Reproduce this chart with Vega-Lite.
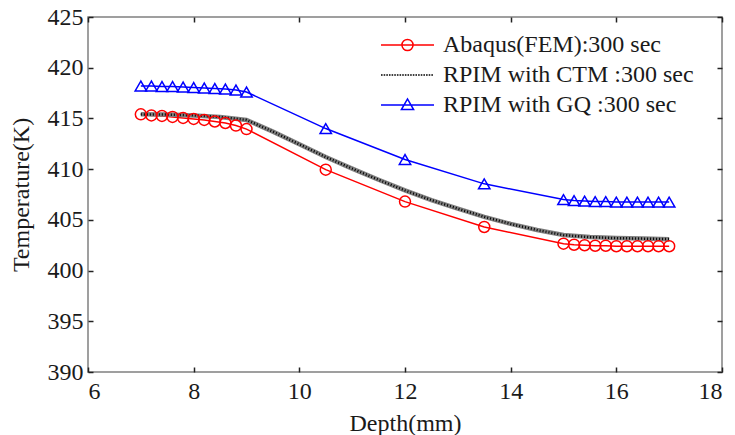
{
  "$schema": "https://vega.github.io/schema/vega-lite/v6.json",
  "width": 634,
  "height": 355,
  "autosize": {"type": "none"},
  "padding": {"left": 88, "top": 17, "right": 13, "bottom": 63},
  "background": "white",
  "config": {
    "font": "Liberation Serif",
    "view": {"stroke": "#808080", "strokeWidth": 1.5},
    "axis": {
      "labelFont": "Liberation Serif", "labelFontSize": 24, "labelColor": "#1a1a1a",
      "titleFont": "Liberation Serif", "titleFontSize": 24, "titleFontWeight": "normal", "titleColor": "#1a1a1a",
      "domain": false, "ticks": true, "tickColor": "#222222", "tickOpacity": 1, "grid": false, "tickSize": 5, "tickWidth": 1.5, "offset": -5, "zindex": 1
    },
    "legend": {
      "orient": "none", "legendX": 292, "legendY": 17, "padding": 0,
      "labelFont": "Liberation Serif", "labelFontSize": 24, "labelColor": "#1a1a1a", "labelLimit": 500,
      "symbolSize": 2809, "symbolStrokeWidth": 1.5, "symbolOpacity": 1, "clipHeight": 22, "rowPadding": 6, "labelOffset": 8
    }
  },
  "data": {"values": [
    {"series": "FEM", "depth": 7.0, "temp": 415.4},
    {"series": "FEM", "depth": 7.2, "temp": 415.3},
    {"series": "FEM", "depth": 7.4, "temp": 415.25},
    {"series": "FEM", "depth": 7.6, "temp": 415.15},
    {"series": "FEM", "depth": 7.8, "temp": 415.05},
    {"series": "FEM", "depth": 8.0, "temp": 414.95},
    {"series": "FEM", "depth": 8.2, "temp": 414.85},
    {"series": "FEM", "depth": 8.4, "temp": 414.7},
    {"series": "FEM", "depth": 8.6, "temp": 414.55},
    {"series": "FEM", "depth": 8.8, "temp": 414.3},
    {"series": "FEM", "depth": 9.0, "temp": 413.95},
    {"series": "FEM", "depth": 10.5, "temp": 409.95},
    {"series": "FEM", "depth": 12.0, "temp": 406.8},
    {"series": "FEM", "depth": 13.5, "temp": 404.3},
    {"series": "FEM", "depth": 15.0, "temp": 402.65},
    {"series": "FEM", "depth": 15.2, "temp": 402.55},
    {"series": "FEM", "depth": 15.4, "temp": 402.5},
    {"series": "FEM", "depth": 15.6, "temp": 402.45},
    {"series": "FEM", "depth": 15.8, "temp": 402.45},
    {"series": "FEM", "depth": 16.0, "temp": 402.4},
    {"series": "FEM", "depth": 16.2, "temp": 402.4},
    {"series": "FEM", "depth": 16.4, "temp": 402.4},
    {"series": "FEM", "depth": 16.6, "temp": 402.4},
    {"series": "FEM", "depth": 16.8, "temp": 402.4},
    {"series": "FEM", "depth": 17.0, "temp": 402.4},
    {"series": "GQ", "depth": 7.0, "temp": 418.2},
    {"series": "GQ", "depth": 7.2, "temp": 418.2},
    {"series": "GQ", "depth": 7.4, "temp": 418.15},
    {"series": "GQ", "depth": 7.6, "temp": 418.15},
    {"series": "GQ", "depth": 7.8, "temp": 418.1},
    {"series": "GQ", "depth": 8.0, "temp": 418.05},
    {"series": "GQ", "depth": 8.2, "temp": 418.0},
    {"series": "GQ", "depth": 8.4, "temp": 417.95},
    {"series": "GQ", "depth": 8.6, "temp": 417.9},
    {"series": "GQ", "depth": 8.8, "temp": 417.8},
    {"series": "GQ", "depth": 9.0, "temp": 417.6},
    {"series": "GQ", "depth": 10.5, "temp": 414.0},
    {"series": "GQ", "depth": 12.0, "temp": 410.95},
    {"series": "GQ", "depth": 13.5, "temp": 408.55},
    {"series": "GQ", "depth": 15.0, "temp": 407.0},
    {"series": "GQ", "depth": 15.2, "temp": 406.9},
    {"series": "GQ", "depth": 15.4, "temp": 406.85},
    {"series": "GQ", "depth": 15.6, "temp": 406.8},
    {"series": "GQ", "depth": 15.8, "temp": 406.8},
    {"series": "GQ", "depth": 16.0, "temp": 406.75},
    {"series": "GQ", "depth": 16.2, "temp": 406.75},
    {"series": "GQ", "depth": 16.4, "temp": 406.75},
    {"series": "GQ", "depth": 16.6, "temp": 406.75},
    {"series": "GQ", "depth": 16.8, "temp": 406.75},
    {"series": "GQ", "depth": 17.0, "temp": 406.75},
    {"series": "CTM", "depth": 7.0, "temp": 415.4},
    {"series": "CTM", "depth": 7.5, "temp": 415.38},
    {"series": "CTM", "depth": 8.0, "temp": 415.3},
    {"series": "CTM", "depth": 8.5, "temp": 415.15},
    {"series": "CTM", "depth": 9.0, "temp": 414.85},
    {"series": "CTM", "depth": 9.5, "temp": 413.7},
    {"series": "CTM", "depth": 10.0, "temp": 412.45},
    {"series": "CTM", "depth": 10.5, "temp": 411.2},
    {"series": "CTM", "depth": 11.0, "temp": 410.05},
    {"series": "CTM", "depth": 11.5, "temp": 408.95},
    {"series": "CTM", "depth": 12.0, "temp": 407.9},
    {"series": "CTM", "depth": 12.5, "temp": 406.95},
    {"series": "CTM", "depth": 13.0, "temp": 406.1},
    {"series": "CTM", "depth": 13.5, "temp": 405.3},
    {"series": "CTM", "depth": 14.0, "temp": 404.6},
    {"series": "CTM", "depth": 14.5, "temp": 404.0},
    {"series": "CTM", "depth": 15.0, "temp": 403.5},
    {"series": "CTM", "depth": 15.5, "temp": 403.3},
    {"series": "CTM", "depth": 16.0, "temp": 403.2},
    {"series": "CTM", "depth": 16.5, "temp": 403.15},
    {"series": "CTM", "depth": 17.0, "temp": 403.1}
  ]},
  "resolve": {"axis": {"x": "independent", "y": "independent"}},
  "layer": [
    {
      "mark": {"type": "point", "filled": false, "strokeWidth": 1.5, "opacity": 0},
      "encoding": {
        "x": {"field": "depth", "type": "quantitative",
              "scale": {"domain": [6, 18], "nice": false},
              "axis": {"orient": "bottom", "values": [6, 8, 10, 12, 14, 16, 18], "title": "Depth(mm)", "labelPadding": 7, "titlePadding": 8}},
        "y": {"field": "temp", "type": "quantitative",
              "scale": {"domain": [390, 425], "nice": false, "zero": false},
              "axis": {"orient": "left", "values": [390, 395, 400, 405, 410, 415, 420, 425], "title": "Temperature(K)", "labelPadding": 5, "titlePadding": 14}},
        "color": {"field": "series", "type": "nominal",
                  "scale": {"domain": ["FEM", "CTM", "GQ"], "range": ["#ff0000", "#000000", "#0000ff"]},
                  "legend": {"title": null, "labelExpr": "datum.value === 'FEM' ? 'Abaqus(FEM):300 sec' : datum.value === 'CTM' ? 'RPIM with CTM :300 sec' : 'RPIM with GQ :300 sec'"}},
        "shape": {"field": "series", "type": "nominal",
                  "scale": {"domain": ["FEM", "CTM", "GQ"],
                            "range": ["M-1,0H1M0.21,0A0.21,0.21,0,1,1,-0.21,0A0.21,0.21,0,1,1,0.21,0",
                                      "M-1,0h0.06M-0.9,0h0.06M-0.8,0h0.06M-0.7,0h0.06M-0.6,0h0.06M-0.5,0h0.06M-0.4,0h0.06M-0.3,0h0.06M-0.2,0h0.06M-0.1,0h0.06M0,0h0.06M0.1,0h0.06M0.2,0h0.06M0.3,0h0.06M0.4,0h0.06M0.5,0h0.06M0.6,0h0.06M0.7,0h0.06M0.8,0h0.06M0.9,0h0.06",
                                      "M-1,0H1M-0.23,0.17L0.23,0.17L0,-0.23Z"]},
                  "legend": {"title": null, "labelExpr": "datum.value === 'FEM' ? 'Abaqus(FEM):300 sec' : datum.value === 'CTM' ? 'RPIM with CTM :300 sec' : 'RPIM with GQ :300 sec'"}}
      }
    },
    {
      "transform": [{"filter": "datum.series !== 'CTM'"}],
      "mark": {"type": "line", "strokeWidth": 1.5},
      "encoding": {
        "x": {"field": "depth", "type": "quantitative", "axis": null},
        "y": {"field": "temp", "type": "quantitative", "axis": null},
        "color": {"field": "series", "type": "nominal", "legend": null}
      }
    },
    {
      "transform": [{"filter": "datum.series === 'CTM'"}],
      "mark": {"type": "line", "strokeWidth": 4.5, "color": "#808080"},
      "encoding": {
        "x": {"field": "depth", "type": "quantitative", "axis": null},
        "y": {"field": "temp", "type": "quantitative", "axis": null}
      }
    },
    {
      "transform": [{"filter": "datum.series === 'CTM'"}],
      "mark": {"type": "line", "strokeWidth": 2.5, "strokeDash": [1, 2]},
      "encoding": {
        "x": {"field": "depth", "type": "quantitative", "axis": null},
        "y": {"field": "temp", "type": "quantitative", "axis": null},
        "color": {"field": "series", "type": "nominal", "legend": null}
      }
    },
    {
      "transform": [{"filter": "datum.series === 'FEM'"}],
      "mark": {"type": "point", "shape": "circle", "filled": false, "size": 121, "strokeWidth": 1.5, "opacity": 1},
      "encoding": {
        "x": {"field": "depth", "type": "quantitative", "axis": null},
        "y": {"field": "temp", "type": "quantitative", "axis": null},
        "color": {"field": "series", "type": "nominal", "legend": null}
      }
    },
    {
      "transform": [{"filter": "datum.series === 'GQ'"}],
      "mark": {"type": "point", "shape": "triangle-up", "filled": false, "size": 130, "strokeWidth": 1.5, "opacity": 1},
      "encoding": {
        "x": {"field": "depth", "type": "quantitative", "axis": null},
        "y": {"field": "temp", "type": "quantitative", "axis": null},
        "color": {"field": "series", "type": "nominal", "legend": null}
      }
    },
    {
      "mark": {"type": "point", "opacity": 0},
      "encoding": {
        "x": {"field": "depth", "type": "quantitative",
              "axis": {"orient": "top", "values": [6, 8, 10, 12, 14, 16, 18], "labels": false, "title": null}},
        "y": {"field": "temp", "type": "quantitative",
              "axis": {"orient": "right", "values": [390, 395, 400, 405, 410, 415, 420, 425], "labels": false, "title": null}}
      }
    }
  ]
}
